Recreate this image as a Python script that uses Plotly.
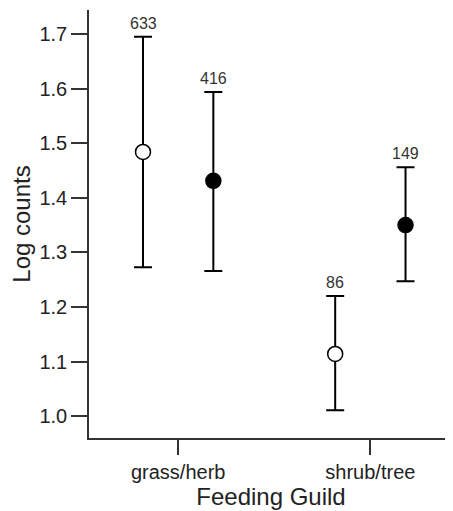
import plotly.graph_objects as go

categories = ["grass/herb", "shrub/tree"]
open_mean = [1.484, 1.114]
open_upper = [1.695, 1.220]
open_lower = [1.273, 1.011]
open_n = ["633", "86"]
filled_mean = [1.431, 1.350]
filled_upper = [1.594, 1.456]
filled_lower = [1.266, 1.247]
filled_n = ["416", "149"]

offset = 0.183
cat_idx = list(range(len(categories)))
x_open = [i - offset for i in cat_idx]
x_filled = [i + offset for i in cat_idx]

def err_plus(m, u):
    return [b - a for a, b in zip(m, u)]

def err_minus(m, l):
    return [a - b for a, b in zip(m, l)]

FONT = "Liberation Sans, Arial, sans-serif"

fig = go.Figure()
for xs, m, u, l, n, fill in [
    (x_open, open_mean, open_upper, open_lower, open_n, "white"),
    (x_filled, filled_mean, filled_upper, filled_lower, filled_n, "black"),
]:
    fig.add_trace(go.Scatter(
        x=xs, y=m, mode="markers",
        marker=dict(size=15, color=fill, line=dict(color="black", width=1.5)),
        error_y=dict(type="data", symmetric=False, array=err_plus(m, u),
                     arrayminus=err_minus(m, l), color="black", thickness=2, width=9),
        showlegend=False, hoverinfo="skip",
    ))
    for xi, yi, ti in zip(xs, u, n):
        fig.add_annotation(
            x=xi, y=yi, text=ti, showarrow=False, yanchor="bottom", yshift=3,
            font=dict(family=FONT, size=16, color="#333"),
        )

fig.update_layout(
    width=445, height=503,
    margin=dict(l=81, r=0, t=2, b=73),
    paper_bgcolor="white", plot_bgcolor="white",
    font=dict(family=FONT, color="#222"),
)
fig.update_xaxes(
    range=[-0.464, 1.43], tickvals=cat_idx, ticktext=categories,
    showgrid=False, zeroline=False, showline=True, linecolor="#333", linewidth=1.5,
    ticks="outside", ticklen=15, tickwidth=1.5, tickcolor="#333",
    tickfont=dict(size=20, color="#222"),
    title=dict(text="Feeding Guild", font=dict(size=24, color="#222"), standoff=4),
)
fig.update_yaxes(
    range=[0.96, 1.744], tickvals=[1.0, 1.1, 1.2, 1.3, 1.4, 1.5, 1.6, 1.7],
    ticktext=["1.0", "1.1", "1.2", "1.3", "1.4", "1.5", "1.6", "1.7"],
    showgrid=False, zeroline=False, showline=True, linecolor="#333", linewidth=1.5,
    ticks="outside", ticklen=16, tickwidth=1.5, tickcolor="#333",
    tickfont=dict(size=20, color="#222"),
    title=dict(text="Log counts", font=dict(size=24, color="#222"), standoff=6),
)

fig.write_html("out.html")
